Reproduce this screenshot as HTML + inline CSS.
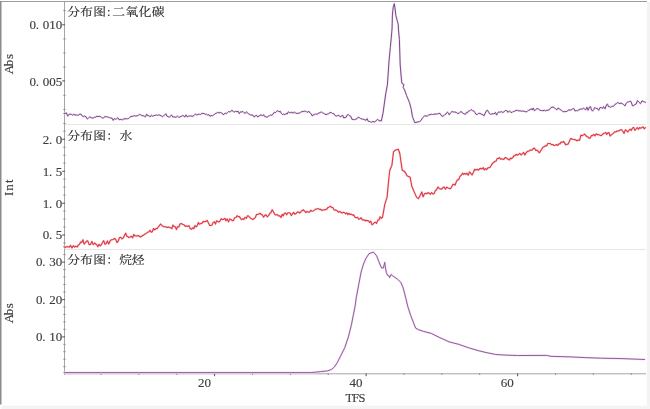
<!DOCTYPE html>
<html><head><meta charset="utf-8"><style>
html,body{margin:0;padding:0;background:#fff;}
svg{display:block;filter:blur(0.35px);}
.t{font-family:"Liberation Serif","Noto Serif CJK SC",serif;font-size:13px;fill:#3c3c3c;stroke:#3c3c3c;stroke-width:0.15px;}
.c{font-family:"Liberation Serif","Noto Serif CJK SC",serif;font-size:12.8px;fill:#222;stroke:#222;stroke-width:0.12px;}
</style></head><body>
<svg width="650" height="409" viewBox="0 0 650 409">
<rect x="0" y="0" width="650" height="409" fill="#fff"/>
<line x1="0" y1="1.5" x2="647" y2="1.5" stroke="#9c9c9c" stroke-width="1.1"/>
<line x1="0.75" y1="1" x2="0.75" y2="404.5" stroke="#8c8c8c" stroke-width="1.5"/>
<rect x="646.8" y="2" width="4" height="407" fill="#f3f3f3"/>
<rect x="1.5" y="405.6" width="649" height="4" fill="#f4f4f4"/>
<line x1="64" y1="124.5" x2="646" y2="124.5" stroke="#e6e6e6" stroke-width="1"/>
<line x1="64" y1="249.5" x2="646" y2="249.5" stroke="#e6e6e6" stroke-width="1"/>
<g stroke="#a6a6a6" stroke-width="1">
<line x1="64.5" y1="2" x2="64.5" y2="375"/>
<line x1="64" y1="373.8" x2="646" y2="373.8"/>
</g>
<g stroke-width="1">
<line x1="63.3" y1="10.7" x2="65.6" y2="10.7" stroke="#8a8a8a"/><line x1="63.3" y1="38.9" x2="65.6" y2="38.9" stroke="#8a8a8a"/><line x1="63.3" y1="53.0" x2="65.6" y2="53.0" stroke="#8a8a8a"/><line x1="63.3" y1="67.1" x2="65.6" y2="67.1" stroke="#8a8a8a"/><line x1="63.3" y1="95.3" x2="65.6" y2="95.3" stroke="#8a8a8a"/><line x1="63.3" y1="109.4" x2="65.6" y2="109.4" stroke="#8a8a8a"/><line x1="63.3" y1="123.5" x2="65.6" y2="123.5" stroke="#8a8a8a"/><line x1="63.3" y1="131.2" x2="65.6" y2="131.2" stroke="#8a8a8a"/><line x1="63.3" y1="147.2" x2="65.6" y2="147.2" stroke="#8a8a8a"/><line x1="63.3" y1="155.2" x2="65.6" y2="155.2" stroke="#8a8a8a"/><line x1="63.3" y1="163.1" x2="65.6" y2="163.1" stroke="#8a8a8a"/><line x1="63.3" y1="179.1" x2="65.6" y2="179.1" stroke="#8a8a8a"/><line x1="63.3" y1="187.1" x2="65.6" y2="187.1" stroke="#8a8a8a"/><line x1="63.3" y1="195.1" x2="65.6" y2="195.1" stroke="#8a8a8a"/><line x1="63.3" y1="211.0" x2="65.6" y2="211.0" stroke="#8a8a8a"/><line x1="63.3" y1="219.0" x2="65.6" y2="219.0" stroke="#8a8a8a"/><line x1="63.3" y1="227.0" x2="65.6" y2="227.0" stroke="#8a8a8a"/><line x1="63.3" y1="242.9" x2="65.6" y2="242.9" stroke="#8a8a8a"/><line x1="63.3" y1="254.6" x2="65.6" y2="254.6" stroke="#8a8a8a"/><line x1="63.3" y1="269.6" x2="65.6" y2="269.6" stroke="#8a8a8a"/><line x1="63.3" y1="277.0" x2="65.6" y2="277.0" stroke="#8a8a8a"/><line x1="63.3" y1="284.5" x2="65.6" y2="284.5" stroke="#8a8a8a"/><line x1="63.3" y1="292.0" x2="65.6" y2="292.0" stroke="#8a8a8a"/><line x1="63.3" y1="306.9" x2="65.6" y2="306.9" stroke="#8a8a8a"/><line x1="63.3" y1="314.4" x2="65.6" y2="314.4" stroke="#8a8a8a"/><line x1="63.3" y1="321.9" x2="65.6" y2="321.9" stroke="#8a8a8a"/><line x1="63.3" y1="329.3" x2="65.6" y2="329.3" stroke="#8a8a8a"/><line x1="63.3" y1="344.3" x2="65.6" y2="344.3" stroke="#8a8a8a"/><line x1="63.3" y1="351.7" x2="65.6" y2="351.7" stroke="#8a8a8a"/><line x1="63.3" y1="359.2" x2="65.6" y2="359.2" stroke="#8a8a8a"/><line x1="63.3" y1="366.7" x2="65.6" y2="366.7" stroke="#8a8a8a"/><line x1="62.2" y1="24.8" x2="65" y2="24.8" stroke="#505050"/><line x1="62.2" y1="80.9" x2="65" y2="80.9" stroke="#505050"/><line x1="62.2" y1="139.2" x2="65" y2="139.2" stroke="#505050"/><line x1="62.2" y1="171.3" x2="65" y2="171.3" stroke="#505050"/><line x1="62.2" y1="203.2" x2="65" y2="203.2" stroke="#505050"/><line x1="62.2" y1="235.0" x2="65" y2="235.0" stroke="#505050"/><line x1="62.2" y1="262.1" x2="65" y2="262.1" stroke="#505050"/><line x1="62.2" y1="299.6" x2="65" y2="299.6" stroke="#505050"/><line x1="62.2" y1="336.9" x2="65" y2="336.9" stroke="#505050"/>
<line x1="101.0" y1="373.3" x2="101.0" y2="375" stroke="#8a8a8a"/><line x1="138.8" y1="373.3" x2="138.8" y2="375" stroke="#8a8a8a"/><line x1="176.7" y1="373.3" x2="176.7" y2="375" stroke="#8a8a8a"/><line x1="214.6" y1="373.5" x2="214.6" y2="376.2" stroke="#505050"/><line x1="252.5" y1="373.3" x2="252.5" y2="375" stroke="#8a8a8a"/><line x1="290.4" y1="373.3" x2="290.4" y2="375" stroke="#8a8a8a"/><line x1="328.2" y1="373.3" x2="328.2" y2="375" stroke="#8a8a8a"/><line x1="366.1" y1="373.5" x2="366.1" y2="376.2" stroke="#505050"/><line x1="404.0" y1="373.3" x2="404.0" y2="375" stroke="#8a8a8a"/><line x1="441.9" y1="373.3" x2="441.9" y2="375" stroke="#8a8a8a"/><line x1="479.7" y1="373.3" x2="479.7" y2="375" stroke="#8a8a8a"/><line x1="517.6" y1="373.5" x2="517.6" y2="376.2" stroke="#505050"/><line x1="555.5" y1="373.3" x2="555.5" y2="375" stroke="#8a8a8a"/><line x1="593.4" y1="373.3" x2="593.4" y2="375" stroke="#8a8a8a"/><line x1="631.2" y1="373.3" x2="631.2" y2="375" stroke="#8a8a8a"/>
</g>
<g fill="none" stroke-linejoin="round" stroke-linecap="round">
<path d="M64.0,372.6 L311.0,372.6 L320.6,371.6 L327.6,370.9 L331.4,369.5 L334.3,367.0 L337.1,362.9 L341.0,355.2 L344.8,347.6 L348.6,336.2 L351.4,324.8 L353.3,315.2 L355.2,305.7 L356.3,297.4 L358.7,284.7 L361.1,272.0 L363.5,264.0 L365.9,258.5 L369.0,253.7 L373.3,252.1 L376.6,255.7 L378.7,261.3 L380.7,266.0 L381.7,268.0 L383.3,268.0 L384.8,262.4 L385.3,267.0 L386.4,272.6 L387.4,275.2 L388.9,275.7 L389.6,277.7 L391.0,274.5 L392.5,275.7 L394.6,277.2 L397.6,279.3 L400.8,282.3 L403.2,287.9 L405.6,297.4 L407.9,306.9 L410.7,315.4 L415.6,328.1 L418.6,329.7 L423.5,331.4 L431.3,333.4 L439.1,337.3 L448.9,341.8 L458.6,344.3 L468.4,347.7 L478.2,350.6 L486.0,352.5 L495.8,354.5 L505.5,355.1 L517.3,355.5 L546.6,355.4 L550.9,356.3 L570.3,356.9 L585.4,357.6 L600.5,358.2 L622.0,358.6 L644.6,359.5" stroke="#f3e0f5" stroke-width="2.2"/>
<path d="M64.0,246.7 L65.3,247.5 L66.6,246.6 L67.9,246.8 L69.2,247.2 L70.6,245.4 L72.0,247.9 L73.3,245.7 L74.6,247.1 L75.9,246.3 L77.2,246.9 L78.5,244.9 L79.6,244.3 L80.6,242.0 L81.7,242.5 L82.9,239.7 L84.1,244.1 L85.3,242.6 L86.5,241.3 L87.7,240.7 L89.1,244.6 L90.5,244.4 L91.9,241.4 L93.2,244.6 L94.6,243.0 L95.7,244.0 L96.8,244.7 L97.9,246.7 L99.1,244.2 L100.2,245.9 L101.3,244.8 L102.5,242.5 L103.7,240.6 L105.0,244.3 L106.2,243.5 L107.4,240.9 L108.7,244.0 L109.9,241.2 L111.1,239.8 L112.2,239.8 L113.3,239.5 L114.5,238.4 L115.7,239.3 L117.0,242.6 L118.2,241.2 L119.5,237.5 L120.8,237.4 L122.0,238.9 L123.3,237.9 L124.6,235.1 L125.7,233.2 L126.8,236.2 L127.9,236.7 L129.0,237.6 L130.1,236.9 L131.3,236.2 L132.6,237.9 L133.8,234.4 L135.0,236.0 L136.3,235.7 L137.5,236.0 L138.7,235.6 L140.0,236.9 L141.2,236.6 L142.3,235.6 L143.4,235.3 L144.6,234.2 L145.7,233.7 L146.8,232.9 L147.9,232.1 L149.0,231.7 L150.1,230.3 L151.2,232.2 L152.3,231.8 L153.5,228.5 L154.8,229.8 L156.0,228.6 L157.2,228.6 L158.3,227.0 L159.4,225.6 L160.6,224.0 L161.8,225.3 L162.9,226.3 L164.0,226.8 L165.2,226.8 L166.3,227.1 L167.4,227.6 L168.6,227.0 L169.7,227.6 L170.8,227.7 L171.9,228.6 L173.0,225.0 L174.2,226.8 L175.3,226.7 L176.4,229.5 L177.5,226.8 L178.8,227.0 L180.0,224.0 L181.3,223.5 L182.5,224.3 L183.8,224.7 L185.1,226.2 L186.4,225.9 L187.7,226.5 L189.0,225.6 L190.3,228.8 L191.5,229.1 L192.6,227.8 L193.8,228.7 L194.9,225.6 L196.1,226.9 L197.2,225.7 L198.3,222.6 L199.5,224.2 L200.8,223.5 L202.1,223.1 L203.4,221.4 L204.7,221.7 L206.0,221.4 L207.2,220.4 L208.5,223.1 L209.7,225.4 L210.8,225.5 L212.0,224.9 L213.2,222.6 L214.3,221.8 L215.5,224.0 L216.6,220.7 L217.8,221.6 L218.9,222.0 L220.1,220.9 L221.2,218.7 L222.3,219.5 L223.5,219.5 L224.8,218.3 L226.0,220.8 L227.2,218.9 L228.5,221.9 L229.8,218.9 L231.0,219.5 L232.2,220.6 L233.4,220.5 L234.7,217.7 L235.9,217.5 L237.1,215.7 L238.3,216.8 L239.4,216.6 L240.5,218.4 L241.6,219.6 L242.7,218.8 L243.8,219.5 L245.0,217.3 L246.3,218.4 L247.5,215.8 L248.6,216.0 L249.7,217.4 L250.8,218.3 L251.9,219.1 L253.0,219.5 L254.2,218.4 L255.3,217.6 L256.5,214.5 L257.7,214.4 L258.9,213.9 L260.1,213.2 L261.3,214.6 L262.4,215.1 L263.6,217.2 L264.8,215.2 L266.0,214.9 L267.2,216.8 L268.5,215.7 L269.7,213.4 L270.9,212.8 L272.2,209.8 L273.4,211.8 L274.7,214.2 L275.9,215.1 L277.2,214.6 L278.5,215.9 L279.7,215.7 L281.0,217.5 L282.1,214.4 L283.2,215.9 L284.4,213.3 L285.5,213.1 L286.7,214.8 L287.8,212.8 L289.0,212.8 L290.1,213.1 L291.3,215.6 L292.5,213.7 L293.6,212.4 L294.8,214.2 L296.0,213.6 L297.3,212.1 L298.5,212.0 L299.7,213.1 L301.0,211.6 L302.2,210.5 L303.4,209.8 L304.6,211.2 L305.9,212.5 L307.1,211.4 L308.3,212.1 L309.5,212.3 L310.7,210.3 L312.0,211.3 L313.2,210.9 L314.4,210.1 L315.7,209.1 L316.9,209.0 L318.1,208.6 L319.4,209.4 L320.6,209.2 L321.8,210.4 L323.1,210.0 L324.3,209.9 L325.5,209.4 L326.8,209.3 L328.0,207.4 L329.2,206.9 L330.5,206.2 L331.7,207.5 L332.8,207.5 L333.9,209.8 L335.0,210.1 L336.1,210.1 L337.2,210.8 L338.4,212.2 L339.7,211.5 L340.9,212.2 L342.1,213.1 L343.4,212.2 L344.6,212.7 L345.7,213.8 L346.8,212.8 L347.9,214.6 L349.0,213.4 L350.1,214.5 L351.3,214.1 L352.6,215.1 L353.8,214.9 L355.0,217.3 L356.3,217.7 L357.5,217.3 L358.7,219.1 L360.0,218.7 L361.2,217.8 L362.4,219.9 L363.7,219.8 L364.9,220.6 L366.1,220.4 L367.3,220.6 L368.5,220.8 L369.6,222.5 L370.8,221.1 L372.0,224.8 L373.2,223.8 L374.4,222.6 L375.5,222.2 L376.6,223.4 L377.8,220.1 L379.0,220.0 L380.1,216.7 L381.3,218.4 L382.5,217.3 L384.8,204.3 L387.1,197.1 L388.7,179.7 L389.8,170.2 L391.9,165.4 L393.5,151.9 L395.1,150.3 L398.3,149.2 L399.8,153.5 L402.2,170.2 L403.8,171.0 L405.4,172.5 L407.0,175.7 L410.2,177.3 L411.7,186.0 L414.1,191.6 L416.5,197.1 L418.4,198.7 L420.5,194.8 L421.8,192.0 L423.1,196.8 L424.4,194.0 L425.6,193.1 L426.8,193.9 L428.0,192.6 L429.2,193.2 L430.4,194.3 L431.6,192.5 L432.8,193.9 L434.1,193.6 L435.4,190.5 L436.6,189.8 L437.9,187.1 L439.2,188.4 L440.4,188.9 L441.7,189.2 L442.9,187.6 L444.1,187.0 L445.4,189.2 L446.6,187.1 L448.0,188.0 L449.4,188.4 L450.5,188.8 L451.7,186.8 L452.9,184.4 L454.0,184.3 L455.1,185.1 L456.3,181.8 L457.5,179.7 L458.6,179.7 L460.0,176.4 L461.4,175.1 L462.5,173.2 L463.6,174.4 L464.7,173.5 L465.8,174.3 L466.9,173.2 L468.2,175.2 L469.5,171.9 L470.8,173.4 L472.1,175.0 L473.4,172.3 L474.7,169.3 L476.0,170.1 L477.2,169.3 L478.5,170.2 L479.8,168.6 L480.9,168.4 L482.0,169.0 L483.2,167.6 L484.3,169.9 L485.4,168.6 L486.6,169.6 L487.9,167.9 L489.1,167.7 L490.3,167.1 L491.6,164.7 L492.8,163.1 L493.9,162.2 L495.0,161.3 L496.1,161.1 L497.2,158.5 L498.3,158.5 L499.4,157.6 L500.5,159.1 L501.6,158.8 L502.7,159.3 L503.8,159.4 L504.8,157.9 L505.7,157.5 L506.9,158.5 L508.2,159.2 L509.4,160.0 L510.5,158.0 L511.6,158.7 L512.7,157.6 L513.8,155.9 L514.9,155.7 L516.1,154.3 L517.4,155.3 L518.6,154.3 L519.8,153.3 L521.1,155.0 L522.3,153.8 L523.6,152.4 L524.9,155.1 L526.1,152.8 L527.4,151.3 L528.7,151.3 L530.0,150.1 L531.1,150.1 L532.3,149.9 L533.5,148.4 L534.6,148.2 L535.8,150.4 L536.9,150.2 L538.1,151.1 L539.2,152.8 L540.4,151.3 L541.7,149.2 L542.9,147.3 L544.1,146.8 L545.4,145.7 L546.6,145.9 L547.8,143.5 L549.1,143.5 L550.3,143.6 L551.5,144.7 L552.8,144.5 L554.0,145.5 L555.2,145.2 L556.5,144.5 L557.7,145.5 L558.9,143.9 L560.0,143.9 L561.1,142.1 L562.3,142.3 L563.4,141.4 L564.6,142.9 L565.8,144.9 L566.9,144.2 L568.0,144.3 L569.2,141.8 L570.4,138.9 L571.5,138.6 L572.6,139.3 L573.7,139.5 L574.8,139.6 L575.9,140.0 L577.0,140.8 L578.3,140.0 L579.6,140.3 L580.9,135.1 L582.2,135.7 L583.5,134.9 L584.6,134.0 L585.7,135.5 L586.8,136.5 L587.9,137.0 L589.0,138.1 L590.2,138.1 L591.4,135.6 L592.5,135.7 L593.7,134.4 L595.0,135.9 L596.3,133.8 L597.5,134.6 L598.8,134.7 L600.1,135.3 L601.2,135.7 L602.3,134.7 L603.5,133.5 L604.6,133.1 L605.7,132.5 L606.8,134.4 L607.9,132.9 L609.0,132.6 L610.1,136.0 L611.2,134.9 L612.4,134.1 L613.5,133.1 L614.7,131.9 L615.9,132.0 L617.0,131.0 L618.2,130.9 L619.3,130.6 L620.5,129.8 L621.7,129.8 L622.9,131.5 L624.1,133.4 L625.4,129.8 L626.6,130.6 L627.8,132.0 L629.0,130.3 L630.1,129.2 L631.3,130.5 L632.5,127.9 L633.7,127.4 L634.9,130.4 L636.1,129.0 L637.2,127.5 L638.4,129.3 L639.6,127.6 L640.8,128.3 L641.9,127.6 L643.1,126.9 L644.2,128.8 L645.4,127.6" stroke="#fbdadc" stroke-width="2.2"/>
<path d="M64.0,113.5 L65.2,113.5 L66.4,112.8 L67.7,116.1 L68.9,114.4 L70.1,114.1 L71.3,114.4 L72.6,115.2 L73.8,114.3 L75.0,115.0 L76.2,114.9 L77.5,115.3 L78.7,114.9 L79.9,114.1 L81.2,114.3 L82.4,116.2 L83.6,116.6 L84.8,116.0 L86.1,116.9 L87.3,119.0 L88.5,118.0 L89.8,116.8 L91.0,117.7 L92.2,118.1 L93.3,117.9 L94.5,117.2 L95.7,117.3 L96.8,116.1 L98.0,116.6 L99.2,116.3 L100.3,116.5 L101.5,117.4 L102.7,118.1 L103.8,117.7 L105.0,116.5 L106.2,116.7 L107.3,117.0 L108.5,117.2 L109.7,117.7 L110.8,118.0 L112.0,118.1 L113.2,120.4 L114.3,118.6 L115.5,119.2 L116.7,118.7 L117.8,117.7 L119.0,119.7 L120.2,119.5 L121.4,119.4 L122.6,120.0 L123.8,118.7 L125.0,118.9 L126.2,118.7 L127.4,118.7 L128.6,118.5 L129.8,117.3 L131.0,116.4 L132.2,116.5 L133.4,115.9 L134.6,115.7 L135.8,116.1 L137.0,115.8 L138.2,115.5 L139.4,114.3 L140.6,114.9 L141.8,115.5 L143.1,115.7 L144.3,116.2 L145.5,116.8 L146.7,114.1 L147.9,115.8 L149.1,115.7 L150.3,116.9 L151.5,115.2 L152.7,116.3 L153.9,115.6 L155.2,115.3 L156.4,115.0 L157.6,115.5 L158.8,114.7 L160.0,115.4 L161.2,115.7 L162.3,116.7 L163.4,116.2 L164.6,114.9 L165.8,113.7 L166.9,116.1 L168.1,116.6 L169.2,117.2 L170.4,116.4 L171.5,114.9 L172.7,116.9 L173.8,116.9 L175.0,117.2 L176.2,117.1 L177.4,116.1 L178.7,117.3 L179.9,117.0 L181.1,116.4 L182.3,115.7 L183.5,115.7 L184.7,117.1 L185.9,114.9 L187.2,116.9 L188.4,116.2 L189.6,116.1 L190.8,115.8 L192.0,116.3 L193.2,116.2 L194.5,114.7 L195.7,114.0 L196.9,115.2 L198.1,114.2 L199.3,114.3 L200.6,114.4 L201.8,113.3 L203.0,113.5 L204.2,113.5 L205.3,114.5 L206.5,114.1 L207.7,115.2 L208.8,114.6 L210.0,116.3 L211.1,115.4 L212.3,115.8 L213.7,115.0 L215.0,113.7 L216.3,113.3 L217.7,112.3 L219.0,113.0 L220.3,112.4 L221.7,112.9 L223.0,114.6 L224.1,114.3 L225.2,113.0 L226.3,113.8 L227.5,112.5 L228.6,111.5 L229.7,111.9 L230.8,111.5 L232.0,110.1 L233.2,111.7 L234.5,111.9 L235.7,111.3 L236.9,111.7 L238.1,111.2 L239.3,113.7 L240.6,111.7 L241.8,112.0 L243.0,111.5 L244.1,112.7 L245.2,113.5 L246.4,111.8 L247.5,112.7 L248.6,114.1 L249.8,114.5 L250.9,115.1 L252.0,115.0 L253.1,115.2 L254.3,117.1 L255.4,115.7 L256.6,115.3 L257.7,117.0 L258.9,116.1 L260.0,115.5 L261.2,114.7 L262.4,116.0 L263.6,114.6 L264.7,116.5 L265.9,116.8 L267.1,117.2 L268.3,116.2 L269.5,115.7 L270.7,114.9 L271.9,115.4 L273.0,114.1 L274.2,112.3 L275.4,112.7 L276.6,111.4 L277.8,110.6 L279.0,111.9 L280.2,111.2 L281.3,113.3 L282.5,114.6 L283.7,114.0 L284.9,114.8 L286.0,113.4 L287.2,114.0 L288.4,111.8 L289.5,112.6 L290.7,112.7 L292.0,112.1 L293.2,113.3 L294.4,112.0 L295.7,113.0 L296.9,113.5 L298.1,113.2 L299.4,113.1 L300.6,112.3 L301.8,111.6 L303.1,111.6 L304.3,111.1 L305.4,111.4 L306.6,111.7 L307.8,112.4 L308.9,111.2 L310.1,113.1 L311.2,113.9 L312.4,116.1 L313.5,114.4 L314.6,114.8 L315.7,113.7 L316.8,114.4 L317.9,113.7 L319.0,112.9 L320.1,112.8 L321.2,111.7 L322.4,112.9 L323.5,113.3 L324.6,113.8 L326.0,114.8 L327.3,114.0 L328.6,113.7 L330.0,112.6 L331.2,112.5 L332.5,113.5 L333.8,113.5 L335.0,115.4 L336.2,116.1 L337.5,115.7 L338.8,115.2 L340.0,116.7 L341.2,116.6 L342.5,115.0 L343.8,118.0 L345.0,117.5 L346.1,117.3 L347.2,114.9 L348.4,114.5 L349.5,115.7 L350.7,116.2 L352.0,119.4 L353.2,119.4 L354.4,119.7 L355.7,119.3 L356.9,118.8 L358.1,117.2 L359.4,117.7 L360.6,118.5 L361.7,119.0 L362.8,119.1 L363.9,119.4 L365.0,119.9 L366.1,120.3 L367.2,118.7 L368.3,121.4 L369.5,121.5 L370.6,121.8 L371.7,122.3 L372.9,121.3 L374.1,122.0 L375.4,121.6 L376.6,120.1 L377.8,119.3 L379.0,120.8 L380.1,120.7 L381.3,121.0 L383.0,113.2 L385.8,93.2 L387.4,84.9 L389.1,60.0 L390.3,47.6 L391.5,35.0 L392.1,28.0 L392.4,15.0 L393.2,7.3 L394.3,3.7 L395.0,8.0 L395.8,15.4 L397.2,20.5 L398.2,24.2 L398.5,30.0 L399.4,39.7 L400.2,65.0 L401.3,78.0 L401.9,83.3 L403.9,84.5 L403.1,87.3 L404.6,90.0 L406.6,95.6 L409.5,102.7 L411.1,108.6 L412.5,116.8 L414.8,122.7 L419.8,121.5 L421.1,120.4 L422.3,118.3 L423.6,116.9 L424.8,115.6 L426.1,116.1 L427.4,116.0 L428.7,114.9 L430.0,114.8 L431.2,114.2 L432.5,114.5 L433.8,114.3 L435.0,114.0 L436.2,114.2 L437.5,113.8 L438.8,113.5 L440.0,113.4 L441.1,115.3 L442.1,116.2 L443.2,116.2 L444.6,114.7 L446.0,114.0 L447.4,112.0 L448.3,112.9 L449.2,114.8 L450.6,112.8 L452.0,111.5 L453.5,112.0 L455.0,112.0 L456.3,112.5 L457.7,113.4 L459.0,113.4 L460.0,112.3 L461.0,111.5 L462.1,112.4 L463.2,113.4 L464.3,113.9 L465.4,114.3 L466.4,112.4 L467.5,112.7 L468.5,111.1 L469.8,110.8 L471.1,109.5 L472.4,110.6 L473.7,110.9 L474.9,112.5 L476.0,114.3 L477.3,114.5 L478.7,113.3 L480.0,113.4 L481.5,114.3 L483.0,114.8 L484.1,115.8 L485.2,113.1 L486.4,110.8 L487.5,110.2 L489.0,112.9 L490.5,114.3 L492.0,113.9 L493.1,113.7 L494.3,113.8 L495.4,112.4 L496.6,115.1 L497.7,112.7 L498.9,112.0 L500.0,112.2 L501.4,111.6 L502.8,112.6 L504.1,111.6 L505.5,110.6 L506.8,110.5 L508.0,112.4 L509.3,110.9 L510.7,112.1 L512.0,112.6 L513.3,111.3 L514.7,111.4 L516.0,110.3 L517.3,110.3 L518.7,111.0 L520.0,110.6 L521.3,111.3 L522.7,111.0 L524.0,111.2 L525.5,111.7 L527.0,111.7 L528.5,110.2 L530.0,109.9 L531.1,108.6 L532.2,110.0 L533.3,108.0 L534.4,110.7 L535.5,109.9 L537.0,108.5 L538.5,109.0 L540.0,110.3 L541.5,110.5 L543.0,110.8 L544.2,110.2 L545.5,110.9 L546.8,110.3 L548.0,110.3 L549.5,109.6 L551.0,107.5 L552.0,107.3 L553.0,107.1 L554.5,107.8 L556.0,109.4 L557.0,109.7 L558.0,108.0 L559.0,108.6 L560.0,109.4 L561.2,110.1 L562.5,111.3 L563.7,111.7 L565.0,111.6 L566.2,111.5 L567.5,111.1 L568.7,109.7 L570.0,110.3 L571.3,109.7 L572.5,109.0 L573.8,108.5 L575.0,111.0 L576.2,110.6 L577.5,110.7 L578.8,109.9 L580.0,109.2 L581.2,109.0 L582.3,109.0 L583.5,108.0 L584.6,109.2 L585.8,109.7 L586.9,107.2 L588.0,110.3 L589.5,107.1 L590.5,106.6 L591.5,109.9 L592.6,111.1 L593.8,109.4 L594.9,107.4 L596.0,108.5 L597.3,108.4 L598.7,110.3 L600.0,107.5 L601.2,107.6 L602.5,108.5 L603.5,106.6 L605.0,108.9 L606.5,104.8 L607.5,104.1 L608.5,106.6 L609.7,106.6 L610.8,107.4 L612.0,106.2 L613.5,106.3 L615.0,104.3 L616.3,103.8 L617.6,102.4 L618.8,103.2 L620.0,103.7 L621.0,102.9 L622.0,103.4 L623.5,104.5 L625.0,105.9 L626.2,103.2 L627.5,102.1 L628.7,102.0 L629.8,101.2 L631.0,101.5 L632.5,105.9 L633.8,105.4 L635.0,104.3 L636.2,104.1 L637.5,100.5 L639.0,102.3 L640.5,103.7 L642.0,100.8 L643.2,101.5 L644.3,101.8 L645.5,102.4" stroke="#f0e0f1" stroke-width="2.1"/>
<path d="M64.0,372.6 L311.0,372.6 L320.6,371.6 L327.6,370.9 L331.4,369.5 L334.3,367.0 L337.1,362.9 L341.0,355.2 L344.8,347.6 L348.6,336.2 L351.4,324.8 L353.3,315.2 L355.2,305.7 L356.3,297.4 L358.7,284.7 L361.1,272.0 L363.5,264.0 L365.9,258.5 L369.0,253.7 L373.3,252.1 L376.6,255.7 L378.7,261.3 L380.7,266.0 L381.7,268.0 L383.3,268.0 L384.8,262.4 L385.3,267.0 L386.4,272.6 L387.4,275.2 L388.9,275.7 L389.6,277.7 L391.0,274.5 L392.5,275.7 L394.6,277.2 L397.6,279.3 L400.8,282.3 L403.2,287.9 L405.6,297.4 L407.9,306.9 L410.7,315.4 L415.6,328.1 L418.6,329.7 L423.5,331.4 L431.3,333.4 L439.1,337.3 L448.9,341.8 L458.6,344.3 L468.4,347.7 L478.2,350.6 L486.0,352.5 L495.8,354.5 L505.5,355.1 L517.3,355.5 L546.6,355.4 L550.9,356.3 L570.3,356.9 L585.4,357.6 L600.5,358.2 L622.0,358.6 L644.6,359.5" stroke="#8a5592" stroke-width="0.95"/>
<path d="M64.0,246.7 L65.3,247.5 L66.6,246.6 L67.9,246.8 L69.2,247.2 L70.6,245.4 L72.0,247.9 L73.3,245.7 L74.6,247.1 L75.9,246.3 L77.2,246.9 L78.5,244.9 L79.6,244.3 L80.6,242.0 L81.7,242.5 L82.9,239.7 L84.1,244.1 L85.3,242.6 L86.5,241.3 L87.7,240.7 L89.1,244.6 L90.5,244.4 L91.9,241.4 L93.2,244.6 L94.6,243.0 L95.7,244.0 L96.8,244.7 L97.9,246.7 L99.1,244.2 L100.2,245.9 L101.3,244.8 L102.5,242.5 L103.7,240.6 L105.0,244.3 L106.2,243.5 L107.4,240.9 L108.7,244.0 L109.9,241.2 L111.1,239.8 L112.2,239.8 L113.3,239.5 L114.5,238.4 L115.7,239.3 L117.0,242.6 L118.2,241.2 L119.5,237.5 L120.8,237.4 L122.0,238.9 L123.3,237.9 L124.6,235.1 L125.7,233.2 L126.8,236.2 L127.9,236.7 L129.0,237.6 L130.1,236.9 L131.3,236.2 L132.6,237.9 L133.8,234.4 L135.0,236.0 L136.3,235.7 L137.5,236.0 L138.7,235.6 L140.0,236.9 L141.2,236.6 L142.3,235.6 L143.4,235.3 L144.6,234.2 L145.7,233.7 L146.8,232.9 L147.9,232.1 L149.0,231.7 L150.1,230.3 L151.2,232.2 L152.3,231.8 L153.5,228.5 L154.8,229.8 L156.0,228.6 L157.2,228.6 L158.3,227.0 L159.4,225.6 L160.6,224.0 L161.8,225.3 L162.9,226.3 L164.0,226.8 L165.2,226.8 L166.3,227.1 L167.4,227.6 L168.6,227.0 L169.7,227.6 L170.8,227.7 L171.9,228.6 L173.0,225.0 L174.2,226.8 L175.3,226.7 L176.4,229.5 L177.5,226.8 L178.8,227.0 L180.0,224.0 L181.3,223.5 L182.5,224.3 L183.8,224.7 L185.1,226.2 L186.4,225.9 L187.7,226.5 L189.0,225.6 L190.3,228.8 L191.5,229.1 L192.6,227.8 L193.8,228.7 L194.9,225.6 L196.1,226.9 L197.2,225.7 L198.3,222.6 L199.5,224.2 L200.8,223.5 L202.1,223.1 L203.4,221.4 L204.7,221.7 L206.0,221.4 L207.2,220.4 L208.5,223.1 L209.7,225.4 L210.8,225.5 L212.0,224.9 L213.2,222.6 L214.3,221.8 L215.5,224.0 L216.6,220.7 L217.8,221.6 L218.9,222.0 L220.1,220.9 L221.2,218.7 L222.3,219.5 L223.5,219.5 L224.8,218.3 L226.0,220.8 L227.2,218.9 L228.5,221.9 L229.8,218.9 L231.0,219.5 L232.2,220.6 L233.4,220.5 L234.7,217.7 L235.9,217.5 L237.1,215.7 L238.3,216.8 L239.4,216.6 L240.5,218.4 L241.6,219.6 L242.7,218.8 L243.8,219.5 L245.0,217.3 L246.3,218.4 L247.5,215.8 L248.6,216.0 L249.7,217.4 L250.8,218.3 L251.9,219.1 L253.0,219.5 L254.2,218.4 L255.3,217.6 L256.5,214.5 L257.7,214.4 L258.9,213.9 L260.1,213.2 L261.3,214.6 L262.4,215.1 L263.6,217.2 L264.8,215.2 L266.0,214.9 L267.2,216.8 L268.5,215.7 L269.7,213.4 L270.9,212.8 L272.2,209.8 L273.4,211.8 L274.7,214.2 L275.9,215.1 L277.2,214.6 L278.5,215.9 L279.7,215.7 L281.0,217.5 L282.1,214.4 L283.2,215.9 L284.4,213.3 L285.5,213.1 L286.7,214.8 L287.8,212.8 L289.0,212.8 L290.1,213.1 L291.3,215.6 L292.5,213.7 L293.6,212.4 L294.8,214.2 L296.0,213.6 L297.3,212.1 L298.5,212.0 L299.7,213.1 L301.0,211.6 L302.2,210.5 L303.4,209.8 L304.6,211.2 L305.9,212.5 L307.1,211.4 L308.3,212.1 L309.5,212.3 L310.7,210.3 L312.0,211.3 L313.2,210.9 L314.4,210.1 L315.7,209.1 L316.9,209.0 L318.1,208.6 L319.4,209.4 L320.6,209.2 L321.8,210.4 L323.1,210.0 L324.3,209.9 L325.5,209.4 L326.8,209.3 L328.0,207.4 L329.2,206.9 L330.5,206.2 L331.7,207.5 L332.8,207.5 L333.9,209.8 L335.0,210.1 L336.1,210.1 L337.2,210.8 L338.4,212.2 L339.7,211.5 L340.9,212.2 L342.1,213.1 L343.4,212.2 L344.6,212.7 L345.7,213.8 L346.8,212.8 L347.9,214.6 L349.0,213.4 L350.1,214.5 L351.3,214.1 L352.6,215.1 L353.8,214.9 L355.0,217.3 L356.3,217.7 L357.5,217.3 L358.7,219.1 L360.0,218.7 L361.2,217.8 L362.4,219.9 L363.7,219.8 L364.9,220.6 L366.1,220.4 L367.3,220.6 L368.5,220.8 L369.6,222.5 L370.8,221.1 L372.0,224.8 L373.2,223.8 L374.4,222.6 L375.5,222.2 L376.6,223.4 L377.8,220.1 L379.0,220.0 L380.1,216.7 L381.3,218.4 L382.5,217.3 L384.8,204.3 L387.1,197.1 L388.7,179.7 L389.8,170.2 L391.9,165.4 L393.5,151.9 L395.1,150.3 L398.3,149.2 L399.8,153.5 L402.2,170.2 L403.8,171.0 L405.4,172.5 L407.0,175.7 L410.2,177.3 L411.7,186.0 L414.1,191.6 L416.5,197.1 L418.4,198.7 L420.5,194.8 L421.8,192.0 L423.1,196.8 L424.4,194.0 L425.6,193.1 L426.8,193.9 L428.0,192.6 L429.2,193.2 L430.4,194.3 L431.6,192.5 L432.8,193.9 L434.1,193.6 L435.4,190.5 L436.6,189.8 L437.9,187.1 L439.2,188.4 L440.4,188.9 L441.7,189.2 L442.9,187.6 L444.1,187.0 L445.4,189.2 L446.6,187.1 L448.0,188.0 L449.4,188.4 L450.5,188.8 L451.7,186.8 L452.9,184.4 L454.0,184.3 L455.1,185.1 L456.3,181.8 L457.5,179.7 L458.6,179.7 L460.0,176.4 L461.4,175.1 L462.5,173.2 L463.6,174.4 L464.7,173.5 L465.8,174.3 L466.9,173.2 L468.2,175.2 L469.5,171.9 L470.8,173.4 L472.1,175.0 L473.4,172.3 L474.7,169.3 L476.0,170.1 L477.2,169.3 L478.5,170.2 L479.8,168.6 L480.9,168.4 L482.0,169.0 L483.2,167.6 L484.3,169.9 L485.4,168.6 L486.6,169.6 L487.9,167.9 L489.1,167.7 L490.3,167.1 L491.6,164.7 L492.8,163.1 L493.9,162.2 L495.0,161.3 L496.1,161.1 L497.2,158.5 L498.3,158.5 L499.4,157.6 L500.5,159.1 L501.6,158.8 L502.7,159.3 L503.8,159.4 L504.8,157.9 L505.7,157.5 L506.9,158.5 L508.2,159.2 L509.4,160.0 L510.5,158.0 L511.6,158.7 L512.7,157.6 L513.8,155.9 L514.9,155.7 L516.1,154.3 L517.4,155.3 L518.6,154.3 L519.8,153.3 L521.1,155.0 L522.3,153.8 L523.6,152.4 L524.9,155.1 L526.1,152.8 L527.4,151.3 L528.7,151.3 L530.0,150.1 L531.1,150.1 L532.3,149.9 L533.5,148.4 L534.6,148.2 L535.8,150.4 L536.9,150.2 L538.1,151.1 L539.2,152.8 L540.4,151.3 L541.7,149.2 L542.9,147.3 L544.1,146.8 L545.4,145.7 L546.6,145.9 L547.8,143.5 L549.1,143.5 L550.3,143.6 L551.5,144.7 L552.8,144.5 L554.0,145.5 L555.2,145.2 L556.5,144.5 L557.7,145.5 L558.9,143.9 L560.0,143.9 L561.1,142.1 L562.3,142.3 L563.4,141.4 L564.6,142.9 L565.8,144.9 L566.9,144.2 L568.0,144.3 L569.2,141.8 L570.4,138.9 L571.5,138.6 L572.6,139.3 L573.7,139.5 L574.8,139.6 L575.9,140.0 L577.0,140.8 L578.3,140.0 L579.6,140.3 L580.9,135.1 L582.2,135.7 L583.5,134.9 L584.6,134.0 L585.7,135.5 L586.8,136.5 L587.9,137.0 L589.0,138.1 L590.2,138.1 L591.4,135.6 L592.5,135.7 L593.7,134.4 L595.0,135.9 L596.3,133.8 L597.5,134.6 L598.8,134.7 L600.1,135.3 L601.2,135.7 L602.3,134.7 L603.5,133.5 L604.6,133.1 L605.7,132.5 L606.8,134.4 L607.9,132.9 L609.0,132.6 L610.1,136.0 L611.2,134.9 L612.4,134.1 L613.5,133.1 L614.7,131.9 L615.9,132.0 L617.0,131.0 L618.2,130.9 L619.3,130.6 L620.5,129.8 L621.7,129.8 L622.9,131.5 L624.1,133.4 L625.4,129.8 L626.6,130.6 L627.8,132.0 L629.0,130.3 L630.1,129.2 L631.3,130.5 L632.5,127.9 L633.7,127.4 L634.9,130.4 L636.1,129.0 L637.2,127.5 L638.4,129.3 L639.6,127.6 L640.8,128.3 L641.9,127.6 L643.1,126.9 L644.2,128.8 L645.4,127.6" stroke="#dd3843" stroke-width="1.1"/>
<path d="M64.0,113.5 L65.2,113.5 L66.4,112.8 L67.7,116.1 L68.9,114.4 L70.1,114.1 L71.3,114.4 L72.6,115.2 L73.8,114.3 L75.0,115.0 L76.2,114.9 L77.5,115.3 L78.7,114.9 L79.9,114.1 L81.2,114.3 L82.4,116.2 L83.6,116.6 L84.8,116.0 L86.1,116.9 L87.3,119.0 L88.5,118.0 L89.8,116.8 L91.0,117.7 L92.2,118.1 L93.3,117.9 L94.5,117.2 L95.7,117.3 L96.8,116.1 L98.0,116.6 L99.2,116.3 L100.3,116.5 L101.5,117.4 L102.7,118.1 L103.8,117.7 L105.0,116.5 L106.2,116.7 L107.3,117.0 L108.5,117.2 L109.7,117.7 L110.8,118.0 L112.0,118.1 L113.2,120.4 L114.3,118.6 L115.5,119.2 L116.7,118.7 L117.8,117.7 L119.0,119.7 L120.2,119.5 L121.4,119.4 L122.6,120.0 L123.8,118.7 L125.0,118.9 L126.2,118.7 L127.4,118.7 L128.6,118.5 L129.8,117.3 L131.0,116.4 L132.2,116.5 L133.4,115.9 L134.6,115.7 L135.8,116.1 L137.0,115.8 L138.2,115.5 L139.4,114.3 L140.6,114.9 L141.8,115.5 L143.1,115.7 L144.3,116.2 L145.5,116.8 L146.7,114.1 L147.9,115.8 L149.1,115.7 L150.3,116.9 L151.5,115.2 L152.7,116.3 L153.9,115.6 L155.2,115.3 L156.4,115.0 L157.6,115.5 L158.8,114.7 L160.0,115.4 L161.2,115.7 L162.3,116.7 L163.4,116.2 L164.6,114.9 L165.8,113.7 L166.9,116.1 L168.1,116.6 L169.2,117.2 L170.4,116.4 L171.5,114.9 L172.7,116.9 L173.8,116.9 L175.0,117.2 L176.2,117.1 L177.4,116.1 L178.7,117.3 L179.9,117.0 L181.1,116.4 L182.3,115.7 L183.5,115.7 L184.7,117.1 L185.9,114.9 L187.2,116.9 L188.4,116.2 L189.6,116.1 L190.8,115.8 L192.0,116.3 L193.2,116.2 L194.5,114.7 L195.7,114.0 L196.9,115.2 L198.1,114.2 L199.3,114.3 L200.6,114.4 L201.8,113.3 L203.0,113.5 L204.2,113.5 L205.3,114.5 L206.5,114.1 L207.7,115.2 L208.8,114.6 L210.0,116.3 L211.1,115.4 L212.3,115.8 L213.7,115.0 L215.0,113.7 L216.3,113.3 L217.7,112.3 L219.0,113.0 L220.3,112.4 L221.7,112.9 L223.0,114.6 L224.1,114.3 L225.2,113.0 L226.3,113.8 L227.5,112.5 L228.6,111.5 L229.7,111.9 L230.8,111.5 L232.0,110.1 L233.2,111.7 L234.5,111.9 L235.7,111.3 L236.9,111.7 L238.1,111.2 L239.3,113.7 L240.6,111.7 L241.8,112.0 L243.0,111.5 L244.1,112.7 L245.2,113.5 L246.4,111.8 L247.5,112.7 L248.6,114.1 L249.8,114.5 L250.9,115.1 L252.0,115.0 L253.1,115.2 L254.3,117.1 L255.4,115.7 L256.6,115.3 L257.7,117.0 L258.9,116.1 L260.0,115.5 L261.2,114.7 L262.4,116.0 L263.6,114.6 L264.7,116.5 L265.9,116.8 L267.1,117.2 L268.3,116.2 L269.5,115.7 L270.7,114.9 L271.9,115.4 L273.0,114.1 L274.2,112.3 L275.4,112.7 L276.6,111.4 L277.8,110.6 L279.0,111.9 L280.2,111.2 L281.3,113.3 L282.5,114.6 L283.7,114.0 L284.9,114.8 L286.0,113.4 L287.2,114.0 L288.4,111.8 L289.5,112.6 L290.7,112.7 L292.0,112.1 L293.2,113.3 L294.4,112.0 L295.7,113.0 L296.9,113.5 L298.1,113.2 L299.4,113.1 L300.6,112.3 L301.8,111.6 L303.1,111.6 L304.3,111.1 L305.4,111.4 L306.6,111.7 L307.8,112.4 L308.9,111.2 L310.1,113.1 L311.2,113.9 L312.4,116.1 L313.5,114.4 L314.6,114.8 L315.7,113.7 L316.8,114.4 L317.9,113.7 L319.0,112.9 L320.1,112.8 L321.2,111.7 L322.4,112.9 L323.5,113.3 L324.6,113.8 L326.0,114.8 L327.3,114.0 L328.6,113.7 L330.0,112.6 L331.2,112.5 L332.5,113.5 L333.8,113.5 L335.0,115.4 L336.2,116.1 L337.5,115.7 L338.8,115.2 L340.0,116.7 L341.2,116.6 L342.5,115.0 L343.8,118.0 L345.0,117.5 L346.1,117.3 L347.2,114.9 L348.4,114.5 L349.5,115.7 L350.7,116.2 L352.0,119.4 L353.2,119.4 L354.4,119.7 L355.7,119.3 L356.9,118.8 L358.1,117.2 L359.4,117.7 L360.6,118.5 L361.7,119.0 L362.8,119.1 L363.9,119.4 L365.0,119.9 L366.1,120.3 L367.2,118.7 L368.3,121.4 L369.5,121.5 L370.6,121.8 L371.7,122.3 L372.9,121.3 L374.1,122.0 L375.4,121.6 L376.6,120.1 L377.8,119.3 L379.0,120.8 L380.1,120.7 L381.3,121.0 L383.0,113.2 L385.8,93.2 L387.4,84.9 L389.1,60.0 L390.3,47.6 L391.5,35.0 L392.1,28.0 L392.4,15.0 L393.2,7.3 L394.3,3.7 L395.0,8.0 L395.8,15.4 L397.2,20.5 L398.2,24.2 L398.5,30.0 L399.4,39.7 L400.2,65.0 L401.3,78.0 L401.9,83.3 L403.9,84.5 L403.1,87.3 L404.6,90.0 L406.6,95.6 L409.5,102.7 L411.1,108.6 L412.5,116.8 L414.8,122.7 L419.8,121.5 L421.1,120.4 L422.3,118.3 L423.6,116.9 L424.8,115.6 L426.1,116.1 L427.4,116.0 L428.7,114.9 L430.0,114.8 L431.2,114.2 L432.5,114.5 L433.8,114.3 L435.0,114.0 L436.2,114.2 L437.5,113.8 L438.8,113.5 L440.0,113.4 L441.1,115.3 L442.1,116.2 L443.2,116.2 L444.6,114.7 L446.0,114.0 L447.4,112.0 L448.3,112.9 L449.2,114.8 L450.6,112.8 L452.0,111.5 L453.5,112.0 L455.0,112.0 L456.3,112.5 L457.7,113.4 L459.0,113.4 L460.0,112.3 L461.0,111.5 L462.1,112.4 L463.2,113.4 L464.3,113.9 L465.4,114.3 L466.4,112.4 L467.5,112.7 L468.5,111.1 L469.8,110.8 L471.1,109.5 L472.4,110.6 L473.7,110.9 L474.9,112.5 L476.0,114.3 L477.3,114.5 L478.7,113.3 L480.0,113.4 L481.5,114.3 L483.0,114.8 L484.1,115.8 L485.2,113.1 L486.4,110.8 L487.5,110.2 L489.0,112.9 L490.5,114.3 L492.0,113.9 L493.1,113.7 L494.3,113.8 L495.4,112.4 L496.6,115.1 L497.7,112.7 L498.9,112.0 L500.0,112.2 L501.4,111.6 L502.8,112.6 L504.1,111.6 L505.5,110.6 L506.8,110.5 L508.0,112.4 L509.3,110.9 L510.7,112.1 L512.0,112.6 L513.3,111.3 L514.7,111.4 L516.0,110.3 L517.3,110.3 L518.7,111.0 L520.0,110.6 L521.3,111.3 L522.7,111.0 L524.0,111.2 L525.5,111.7 L527.0,111.7 L528.5,110.2 L530.0,109.9 L531.1,108.6 L532.2,110.0 L533.3,108.0 L534.4,110.7 L535.5,109.9 L537.0,108.5 L538.5,109.0 L540.0,110.3 L541.5,110.5 L543.0,110.8 L544.2,110.2 L545.5,110.9 L546.8,110.3 L548.0,110.3 L549.5,109.6 L551.0,107.5 L552.0,107.3 L553.0,107.1 L554.5,107.8 L556.0,109.4 L557.0,109.7 L558.0,108.0 L559.0,108.6 L560.0,109.4 L561.2,110.1 L562.5,111.3 L563.7,111.7 L565.0,111.6 L566.2,111.5 L567.5,111.1 L568.7,109.7 L570.0,110.3 L571.3,109.7 L572.5,109.0 L573.8,108.5 L575.0,111.0 L576.2,110.6 L577.5,110.7 L578.8,109.9 L580.0,109.2 L581.2,109.0 L582.3,109.0 L583.5,108.0 L584.6,109.2 L585.8,109.7 L586.9,107.2 L588.0,110.3 L589.5,107.1 L590.5,106.6 L591.5,109.9 L592.6,111.1 L593.8,109.4 L594.9,107.4 L596.0,108.5 L597.3,108.4 L598.7,110.3 L600.0,107.5 L601.2,107.6 L602.5,108.5 L603.5,106.6 L605.0,108.9 L606.5,104.8 L607.5,104.1 L608.5,106.6 L609.7,106.6 L610.8,107.4 L612.0,106.2 L613.5,106.3 L615.0,104.3 L616.3,103.8 L617.6,102.4 L618.8,103.2 L620.0,103.7 L621.0,102.9 L622.0,103.4 L623.5,104.5 L625.0,105.9 L626.2,103.2 L627.5,102.1 L628.7,102.0 L629.8,101.2 L631.0,101.5 L632.5,105.9 L633.8,105.4 L635.0,104.3 L636.2,104.1 L637.5,100.5 L639.0,102.3 L640.5,103.7 L642.0,100.8 L643.2,101.5 L644.3,101.8 L645.5,102.4" stroke="#733f7f" stroke-width="0.95"/>
</g>
<g class="t"><text x="32.7 37.3 45.9 52.5 59.1" y="29.0" text-anchor="middle">0.010</text><text x="32.7 37.3 45.9 52.5 59.1" y="85.8" text-anchor="middle">0.005</text><text x="45.9 50.5 59.1" y="143.7" text-anchor="middle">2.0</text><text x="45.9 50.5 59.1" y="175.5" text-anchor="middle">1.5</text><text x="45.9 50.5 59.1" y="207.6" text-anchor="middle">1.0</text><text x="45.9 50.5 59.1" y="239.3" text-anchor="middle">0.5</text><text x="39.3 43.9 52.5 59.1" y="265.5" text-anchor="middle">0.30</text><text x="39.3 43.9 52.5 59.1" y="304.4" text-anchor="middle">0.20</text><text x="39.3 43.9 52.5 59.1" y="341.0" text-anchor="middle">0.10</text><text x="201.2 207.8" y="386.8" text-anchor="middle">20</text><text x="352.8 359.2" y="386.8" text-anchor="middle">40</text><text x="504.1 510.6" y="386.8" text-anchor="middle">60</text><text x="349.3 355.6 361.9" y="402" text-anchor="middle" style="font-size:12.4px">TFS</text><text transform="translate(12.8,63.0) rotate(-90)" x="-6.5 0.0 6.5" y="0" text-anchor="middle">Abs</text><text transform="translate(12.8,187.5) rotate(-90)" x="-6.3 0.0 6.3" y="0" text-anchor="middle">Int</text><text transform="translate(12.8,312.1) rotate(-90)" x="-6.5 0.0 6.5" y="0" text-anchor="middle">Abs</text></g>
<g class="c"><text transform="translate(0,15.6) scale(1,0.9)" x="73.60 86.40 99.60 108.80 118.60 131.80 144.80 158.20" y="0" text-anchor="middle">分布图:二氧化碳</text><text transform="translate(0,140.2) scale(1,0.9)" x="73.60 86.50 99.60 112.60 125.80" y="0" text-anchor="middle">分布图：水</text><text transform="translate(0,264.0) scale(1,0.9)" x="73.60 86.50 99.60 112.60 125.60 138.10" y="0" text-anchor="middle">分布图：烷烃</text></g>
</svg>
</body></html>
